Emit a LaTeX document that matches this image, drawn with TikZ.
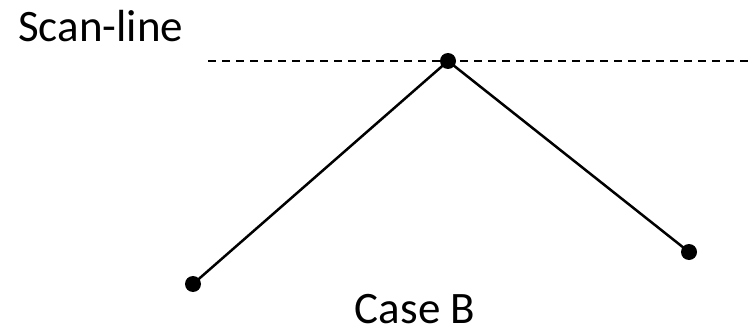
\documentclass[tikz,border=0pt]{standalone}
\usepackage{fontspec}
\setmainfont{Carlito}
\usetikzlibrary{positioning}

\begin{document}
\begin{tikzpicture}[
  x=1pt, y=-1pt,
  vertex/.style={circle, fill=black, inner sep=0pt, minimum size=16pt},
  edge/.style={line width=2.5pt, black},
  scanline/.style={line width=2.5pt, dash pattern=on 8pt off 6pt},
  label/.style={font=\fontsize{45}{50}\selectfont, inner sep=0pt}
]
\useasboundingbox (0,0) rectangle (753,329);

% scan-line and its label
\node[label, anchor=base west] (scan) at (18,42) {Scan-line};
\coordinate (sl) at (208,61);
\coordinate (sr) at (750,61);
\draw[scanline] (sl) -- (sr);

% the vertices
\node[vertex] (top) at (448,61) {};
\node[vertex] (left) at (193,284) {};
\node[vertex] (right) at (689,252) {};

\draw[edge] (top.center) -- (left.center);
\draw[edge] (top.center) -- (right.center);

\node[label, anchor=base] (case) at (415,323) {Case B};
\end{tikzpicture}
\end{document}
